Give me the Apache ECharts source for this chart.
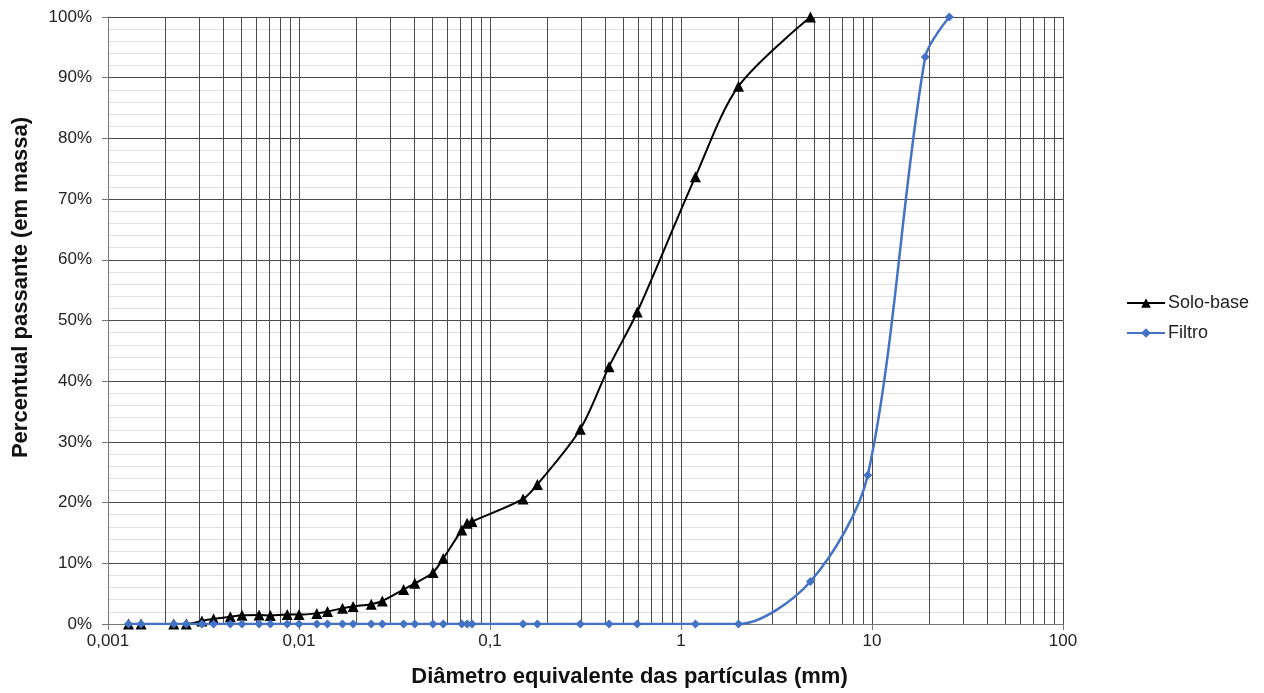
<!DOCTYPE html>
<html>
<head>
<meta charset="utf-8">
<script src="https://cdn.jsdelivr.net/npm/echarts@6/dist/echarts.min.js"></script>
<style>html,body{margin:0;padding:0;background:#fff}#c{width:1264px;height:693px}</style>
</head>
<body>
<div id="c"></div>
<script>
// Diameters (mm) and percent passing
const soloDiam = [0.00128, 0.00149, 0.00221, 0.00257, 0.0031, 0.00357, 0.00437, 0.00503, 0.00618, 0.00708, 0.00868, 0.01, 0.0124, 0.0141, 0.0169, 0.0192, 0.0239, 0.0273, 0.0353, 0.0404, 0.0503, 0.0569, 0.0712, 0.0759, 0.0805, 0.149, 0.177, 0.297, 0.42, 0.59, 1.19, 2.0, 4.76];
const soloPass = [0, 0, 0, 0, 0.5, 0.85, 1.2, 1.45, 1.5, 1.4, 1.55, 1.55, 1.75, 2.05, 2.6, 2.9, 3.25, 3.8, 5.7, 6.7, 8.5, 10.8, 15.5, 16.6, 16.9, 20.6, 23.0, 32.1, 42.4, 51.4, 73.7, 88.6, 100];
const filtroDiam = [0.00128, 0.00149, 0.00221, 0.00257, 0.0031, 0.00357, 0.00437, 0.00503, 0.00618, 0.00708, 0.00868, 0.01, 0.0124, 0.0141, 0.0169, 0.0192, 0.0239, 0.0273, 0.0353, 0.0404, 0.0503, 0.0569, 0.0712, 0.0759, 0.0805, 0.149, 0.177, 0.297, 0.42, 0.59, 1.19, 2.0, 4.76, 9.5, 19.0, 25.4];
const filtroPass = [0, 0, 0, 0, 0, 0, 0, 0, 0, 0, 0, 0, 0, 0, 0, 0, 0, 0, 0, 0, 0, 0, 0, 0, 0, 0, 0, 0, 0, 0, 0, 0, 7.0, 24.5, 93.4, 100];
const gridDiam = [];
for (const d of [0.001, 0.01, 0.1, 1, 10]) for (let k = 1; k <= 9; k++) gridDiam.push(+(d * k).toPrecision(3));
gridDiam.push(100);
const xTickLabels = {0.001: '0,001', 0.01: '0,01', 0.1: '0,1', 1: '1', 10: '10', 100: '100'};

const zip = (a, b) => a.map((v, i) => [v, b[i]]);
const chart = echarts.init(document.getElementById('c'), null, {renderer: 'canvas'});
const font = 'Liberation Sans, Arial, sans-serif';
chart.setOption({
  animation: false,
  backgroundColor: '#fff',
  grid: {left: 108, right: 201, top: 17, bottom: 69, containLabel: false},
  legend: {
    orient: 'vertical', left: 1121, top: 289, itemWidth: 38, itemHeight: 12, itemGap: 12,
    textStyle: {fontFamily: font, fontSize: 18, color: '#222', padding: [0, 0, 0, -2]},
    data: ['Solo-base', 'Filtro']
  },
  xAxis: [{
    type: 'log', logBase: 10, min: 0.001, max: 100,
    name: 'Diâmetro equivalente das partículas (mm)', nameLocation: 'middle', nameGap: 42,
    nameTextStyle: {fontFamily: font, fontSize: 22, fontWeight: 'bold', color: '#111', padding: [0, 0, 0, 88]},
    axisLine: {show: true, lineStyle: {color: '#777', width: 1}},
    axisTick: {show: true, length: 6, inside: false, lineStyle: {color: '#777'}},
    axisLabel: {fontFamily: font, fontSize: 17, color: '#222', margin: 9,
      formatter: v => xTickLabels[+v.toPrecision(3)] ?? ''},
    splitLine: {show: false}
  }, {
    type: 'log', logBase: 10, min: 0.001, max: 100, position: 'bottom',
    axisLine: {show: false}, axisLabel: {show: false},
    axisTick: {show: false, customValues: gridDiam},
    splitLine: {show: true, lineStyle: {color: '#4a4a4a', width: 1}}
  }],
  yAxis: {
    type: 'value', min: 0, max: 100, interval: 10,
    name: 'Percentual passante (em massa)', nameLocation: 'middle', nameGap: 76,
    nameTextStyle: {fontFamily: font, fontSize: 22, fontWeight: 'bold', color: '#111', padding: [0, 0, 0, 66]},
    axisLine: {show: true, lineStyle: {color: '#777'}},
    axisTick: {show: true, length: 6, lineStyle: {color: '#777'}},
    axisLabel: {fontFamily: font, fontSize: 17, color: '#222', margin: 16, formatter: '{value}%'},
    splitLine: {show: true, lineStyle: {color: '#4a4a4a', width: 1}},
    minorTick: {show: false, splitNumber: 5},
    minorSplitLine: {show: true, lineStyle: {color: '#e0e0e0', width: 1}}
  },
  series: [{
    name: 'Solo-base', type: 'line', xAxisIndex: 0, data: zip(soloDiam, soloPass),
    smooth: 0.3, symbol: 'triangle', symbolSize: 11,
    lineStyle: {color: '#000', width: 2}, itemStyle: {color: '#000'}, z: 3
  }, {
    name: 'Filtro', type: 'line', xAxisIndex: 0, data: zip(filtroDiam, filtroPass),
    smooth: 0.3, symbol: 'diamond', symbolSize: 9,
    lineStyle: {color: '#4472C4', width: 2.5}, itemStyle: {color: '#4472C4'}, z: 4
  }]
});
</script>
</body>
</html>
